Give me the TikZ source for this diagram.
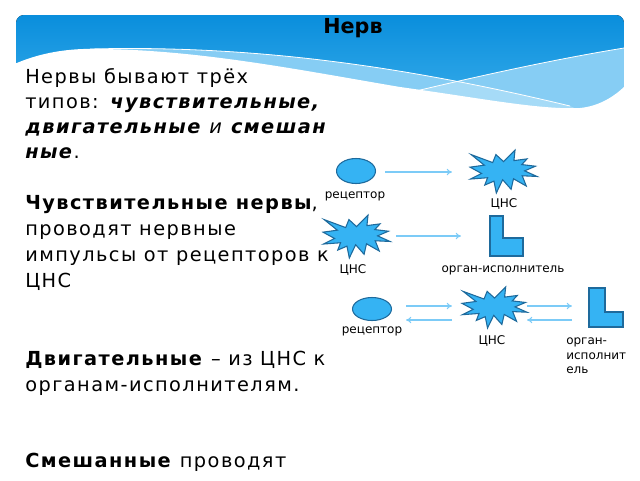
\documentclass[tikz,border=0pt]{standalone}
\usepackage{fontspec}
\setmainfont{DejaVu Sans}
\newfontfamily\bodyfont{DejaVu Sans}[LetterSpace=7.5]
\usetikzlibrary{shapes.geometric,arrows.meta}
\definecolor{hdrtop}{HTML}{0A8EDC}
\definecolor{hdrbot}{HTML}{3DB0EC}
\definecolor{band}{HTML}{86CDF4}
\definecolor{band2}{HTML}{A6DBF7}
\definecolor{shapefill}{HTML}{35B3F3}
\definecolor{shapedraw}{HTML}{1E6A9C}
\definecolor{arrowc}{HTML}{7CCBF7}
\tikzset{
  txt/.style={anchor=base west, inner sep=0pt, font=\bodyfont\fontsize{14.5}{16}\selectfont},
  shp/.style={fill=shapefill, draw=shapedraw, line width=0.8pt},
  lbl/.style={inner sep=0pt, font=\fontsize{9}{10}\selectfont},
  arr/.style={draw=arrowc, line width=0.8pt, -{To[length=4pt,width=5pt]}},
  burst/.pic={\draw[shp] (0.5,0.2685) -- (0.6723,0) -- (0.6553,0.2465) -- (0.8509,0.2063) -- (0.7732,0.3387) -- (0.9767,0.3767) -- (0.8151,0.4850) -- (1,0.6153) -- (0.7795,0.5992) -- (0.8400,0.8377) -- (0.6491,0.6693) -- (0.6133,0.9138) -- (0.4876,0.6914) -- (0.3928,1) -- (0.3572,0.7235) -- (0.2205,0.8156) -- (0.2624,0.6452) -- (0.00625,0.6753) -- (0.1723,0.5451) -- (0,0.3988) -- (0.2142,0.3526) -- (0.0171,0.1063) -- (0.3385,0.2926) -- (0.3867,0.1063) -- cycle;}
}
\begin{document}
\begin{tikzpicture}[x=0.75pt,y=-0.75pt]
\useasboundingbox (0,0) rectangle (640,480);
% header
\begin{scope}
\clip[rounded corners=6] (16,15) rectangle (624,140);
\fill[top color=hdrtop,bottom color=hdrbot] (16,15) rectangle (624,120);
\fill[band] (90,49) .. controls (250,45) and (400,65) .. (570,106) -- (624,130) -- (16,130) -- cycle;
\fill[band] (395,96) .. controls (470,78) and (550,60) .. (624,48) -- (624,130) -- (395,130) -- cycle;
\begin{scope}
\clip (90,49) .. controls (250,45) and (400,65) .. (570,106) -- (624,130) -- (16,130) -- cycle;
\fill[band2] (395,96) .. controls (470,78) and (550,60) .. (624,48) -- (624,130) -- (395,130) -- cycle;
\end{scope}
\draw[white, line width=0.6pt] (90,49) .. controls (250,45) and (400,65) .. (570,106);
\draw[white, line width=0.6pt] (395,96) .. controls (470,78) and (550,60) .. (624,48);
\fill[white] (10,66) .. controls (40,52) and (70,48) .. (100,49) .. controls (200,50) and (300,70) .. (400,87) .. controls (480,98) and (540,110) .. (580,108) .. controls (600,106) and (615,96) .. (626,85) -- (626,140) -- (10,140) -- cycle;
\end{scope}
\node[anchor=base, inner sep=0pt, font=\bfseries\fontsize{15.5}{18}\selectfont] (title) at (353,33) {Нерв};
% left text
\node[txt] (l1) at (25,83) {Нервы бывают трёх};
\node[txt] (l2) at (25,108) {типов: \textbf{\textit{чувствительные,}}};
\node[txt] (l3) at (25,133) {\textbf{\textit{двигательные}} \textit{и} \textbf{\textit{смешан}}};
\node[txt] (l4) at (25,158) {\textbf{\textit{ные}}.};
\node[txt] (l5) at (25,209) {\textbf{Чувствительные нервы},};
\node[txt] (l6) at (25,235) {проводят нервные};
\node[txt] (l7) at (25,261) {импульсы от рецепторов к};
\node[txt] (l8) at (25,287) {ЦНС};
\node[txt] (l9) at (25,365) {\textbf{Двигательные} – из ЦНС к};
\node[txt] (l10) at (25,391) {органам-исполнителям.};
\node[txt] (l11) at (25,467) {\textbf{Смешанные} проводят};
% row 1
\node[shp, ellipse, inner sep=0pt, minimum width=29.25pt, minimum height=18.75pt] (rec1) at (356,171) {};
\node[lbl] (rec1l) at (355,196) {рецептор};
\pic[xscale=67,yscale=43] (cns1) at (470,150) {burst};
\node[lbl] (cns1l) at (504,204) {ЦНС};
\coordinate (a1s) at (385,172);
\coordinate (a1e) at (452,172);
\draw[arr] (a1s) -- (a1e);
% row 2
\pic[xscale=67,yscale=43] (cns2) at (323,215) {burst};
\node[lbl] (cns2l) at (353,270) {ЦНС};
\coordinate (a2s) at (396,236);
\coordinate (a2e) at (461,236);
\draw[arr] (a2s) -- (a2e);
\draw[shp] (490,216) -- (503,216) -- (503,238) -- (523,238) -- (523,256) -- (490,256) -- cycle;
\node[lbl] (org1l) at (503,270) {орган-исполнитель};
% row 3
\node[shp, ellipse, inner sep=0pt, minimum width=29.25pt, minimum height=17.25pt] (rec2) at (372,309) {};
\node[lbl] (rec2l) at (372,331) {рецептор};
\coordinate (b1s) at (406,306);
\coordinate (b1e) at (452,306);
\coordinate (b2s) at (452,320);
\coordinate (b2e) at (406,320);
\draw[arr] (b1s) -- (b1e);
\draw[arr] (b2s) -- (b2e);
\pic[xscale=65,yscale=41] (cns3) at (462,287) {burst};
\node[lbl] (cns3l) at (492,341) {ЦНС};
\coordinate (c1s) at (527,306);
\coordinate (c1e) at (572,306);
\coordinate (c2s) at (572,320);
\coordinate (c2e) at (527,320);
\draw[arr] (c1s) -- (c1e);
\draw[arr] (c2s) -- (c2e);
\draw[shp] (589,288) -- (605,288) -- (605,312) -- (623,312) -- (623,327) -- (589,327) -- cycle;
\node[lbl, anchor=west] (org2a) at (566,342) {орган-};
\node[lbl, anchor=west] (org2b) at (566,356) {исполнит};
\node[lbl, anchor=west] (org2c) at (566,370) {ель};
\end{tikzpicture}
\end{document}
